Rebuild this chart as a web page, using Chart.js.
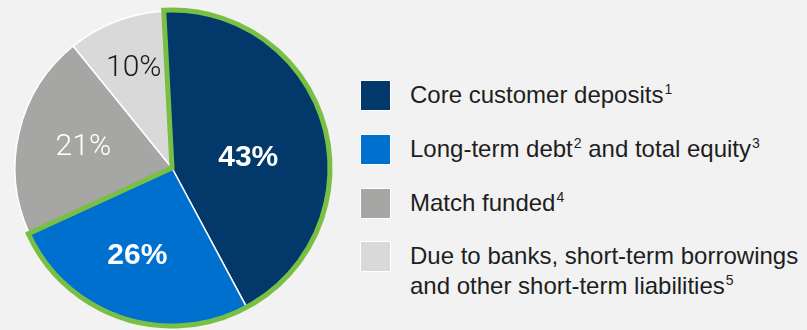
<!DOCTYPE html>
<html>
<head>
<meta charset="utf-8">
<script src="https://cdn.jsdelivr.net/npm/chart.js@4.4.1/dist/chart.umd.min.js"></script>
<style>
    html, body { margin: 0; padding: 0; background: #f2f2f2; }
    body { width: 807px; height: 330px; position: relative; overflow: hidden; font-family: 'Liberation Sans', Arial, sans-serif; }
    #pieBox { position: absolute; left: 0; top: 0; width: 344px; height: 336px; }
    #legend { position: absolute; left: 360px; top: 80px; }
    .legend-row { display: flex; align-items: flex-start; margin-bottom: 21px; }
    .legend-row:nth-child(3) { margin-bottom: 20px; }
    .swatch { width: 31px; height: 31px; box-sizing: border-box; border: 1.5px solid #fff; flex: none; }
    .legend-text { margin-left: 19px; font-size: 24px; line-height: 30px; color: #1e1e1e; white-space: nowrap; }
    .legend-text sup { font-size: 14px; vertical-align: 0; position: relative; top: -9px; margin-left: 1px; }
</style>
</head>
<body>
<div id="pieBox"><canvas id="chart"></canvas></div>
<div id="legend"></div>
<script>
// funding mix, in percent
const labels = [
    ['Core customer deposits'],
    ['Long-term debt', 'and total equity'],
    ['Match funded'],
    ['Due to banks, short-term borrowings', 'and other short-term liabilities']
];
const footnotes = [['1'], ['2', '3'], ['4'], ['', '5']];
const shares = [43, 26, 21, 10];
const sliceColors = ['#02386a', '#0070cf', '#a6a6a4', '#d9d9d9'];
const labelColors = ['#ffffff', '#ffffff', '#ffffff', '#1a1a1a'];
const labelWeights = ['bold', 'bold', '300', '300'];
const highlighted = [0, 1];

// where each percentage sits: share of radius, extra turn in degrees
const labelSpots = [
    { r: 0.49, turn: 8 },
    { r: 0.6, turn: 3 },
    { r: 0.58, turn: 0 },
    { r: 0.68, turn: 0 }
];

// legend built from the same arrays
const legend = document.getElementById('legend');
labels.forEach((lines, i) => {
    const row = document.createElement('div');
    row.className = 'legend-row';
    const text = lines.map((line, j) => {
        const note = footnotes[i][j];
        return line + (note ? `<sup>${note}</sup>` : '');
    });
    // two-part labels with a note in the middle stay on one line
    const html = i === 1 ? text.join(' ') : text.join('<br>');
    row.innerHTML = `<div class="swatch" style="background:${sliceColors[i]}"></div><div class="legend-text">${html}</div>`;
    legend.appendChild(row);
});

const percentLabels = {
    id: 'percentLabels',
    afterDatasetsDraw(chart) {
        const ctx = chart.ctx;
        const arcs = chart.getDatasetMeta(0).data;
        ctx.save();
        ctx.textAlign = 'center';
        ctx.textBaseline = 'middle';
        arcs.forEach((arc, i) => {
            const spot = labelSpots[i];
            const mid = (arc.startAngle + arc.endAngle) / 2 + spot.turn * Math.PI / 180;
            const dist = arc.outerRadius * spot.r;
            const family = labelWeights[i] === 'bold' ? "'Liberation Sans', Arial" : "Roboto, 'Liberation Sans'";
            ctx.font = `${labelWeights[i]} 30px ${family}`;
            ctx.fillStyle = labelColors[i];
            ctx.fillText(shares[i] + '%', arc.x + Math.cos(mid) * dist, arc.y + Math.sin(mid) * dist);
        });
        ctx.restore();
    }
};

// green outline around the highlighted slices taken together
const groupOutline = {
    id: 'groupOutline',
    afterDatasetsDraw(chart) {
        const arcs = chart.getDatasetMeta(0).data;
        const first = arcs[highlighted[0]];
        const last = arcs[highlighted[highlighted.length - 1]];
        const ctx = chart.ctx;
        ctx.save();
        ctx.beginPath();
        ctx.moveTo(first.x, first.y);
        ctx.arc(first.x, first.y, first.outerRadius + 1, first.startAngle, last.endAngle);
        ctx.closePath();
        ctx.lineWidth = 5;
        ctx.lineJoin = 'miter';
        ctx.strokeStyle = '#79bf44';
        ctx.stroke();
        ctx.restore();
    }
};

new Chart(document.getElementById('chart'), {
    type: 'pie',
    data: {
        labels: labels,
        datasets: [{
            data: shares,
            backgroundColor: sliceColors,
            borderColor: '#ffffff',
            borderWidth: 1.5
        }]
    },
    options: {
        responsive: true,
        maintainAspectRatio: false,
        animation: false,
        rotation: -3,
        radius: 157,
        layout: { padding: 0 },
        plugins: {
            legend: { display: false },
            tooltip: { enabled: false }
        }
    },
    plugins: [groupOutline, percentLabels]
});
</script>
</body>
</html>
